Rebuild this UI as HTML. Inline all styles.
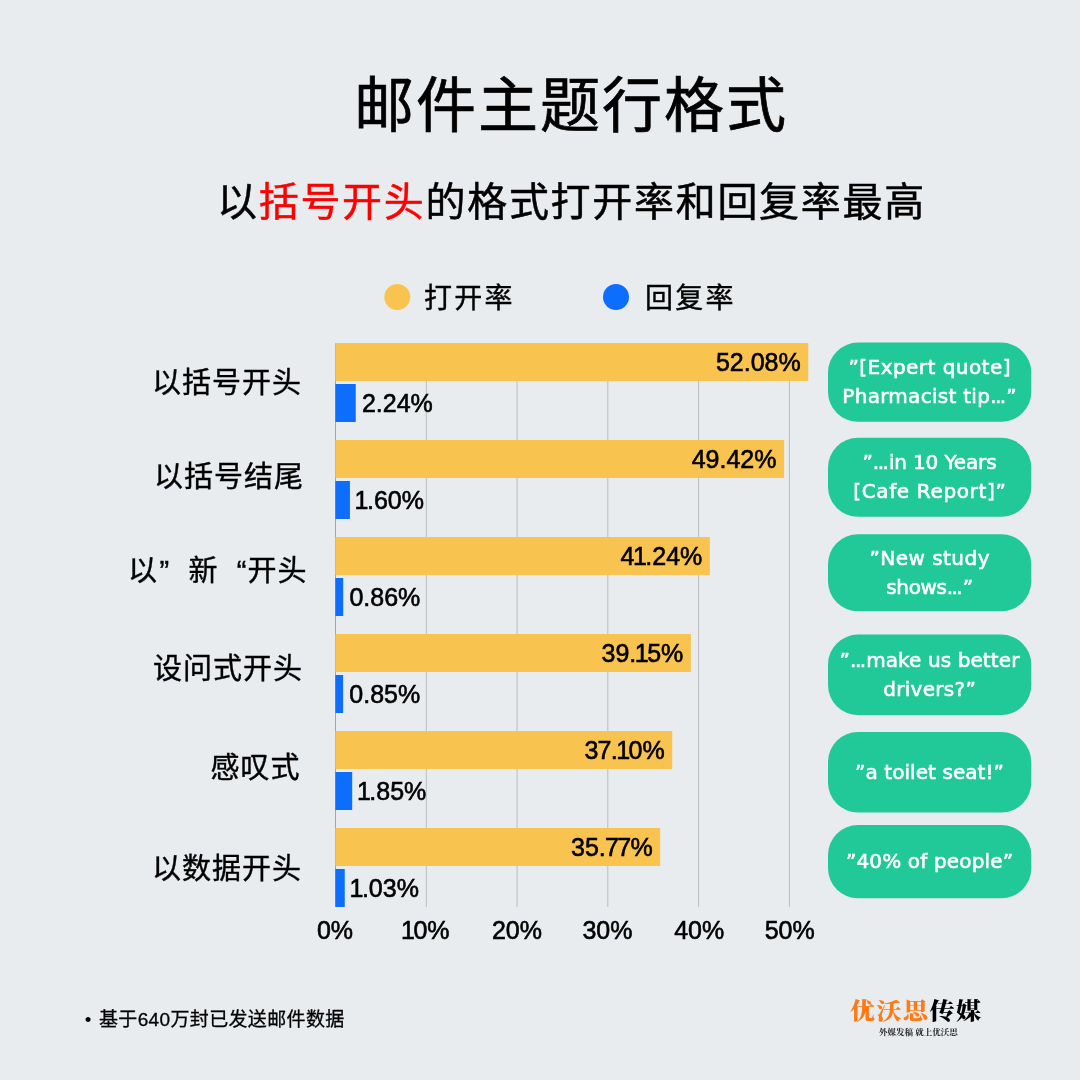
<!DOCTYPE html>
<html lang="zh-CN">
<head>
<meta charset="utf-8">
<title>邮件主题行格式</title>
<style>
*{margin:0;padding:0;box-sizing:border-box}
html,body{width:1080px;height:1080px;overflow:hidden;background:#e9ecef}
body{position:relative;font-family:"Liberation Sans","Noto Sans CJK SC",sans-serif;color:#000}
.abs{position:absolute;white-space:nowrap}
svg{position:absolute;left:0;top:0}
.title{left:354px;top:62px;font-size:60px;line-height:90px;font-weight:400;-webkit-text-stroke:0.7px #000;letter-spacing:2px}
.sub{left:217px;top:172px;font-size:40px;line-height:60px;letter-spacing:1.7px;-webkit-text-stroke-width:0.5px}
.sub b{font-weight:400;color:#f00}
.leg{font-size:28px;line-height:40px;letter-spacing:2.2px;top:279px;-webkit-text-stroke-width:0.4px}
.cat{font-size:29px;line-height:40px;letter-spacing:1px;text-align:right;-webkit-text-stroke-width:0.4px}
.cat i{font-style:normal;display:inline-block;width:29px}
.cat .q0{width:auto;margin-right:1.4px}
.cat .ql{text-align:left}
.cat .qr{text-align:right}
.val{font-size:25px;line-height:38px;-webkit-text-stroke:0.6px #000}
.tick{font-size:25px;line-height:30px;width:100px;text-align:center;-webkit-text-stroke:0.6px #000}
.pl{left:828px;width:203px;color:#fff;font-family:"DejaVu Sans","Liberation Sans",sans-serif;font-size:20px;line-height:30px;text-align:center;-webkit-text-stroke:0.6px #fff}
.n1{margin:0 -1.5px}
.n7{margin:0 -0.8px}
.el{letter-spacing:-1.5px;margin-right:1.5px}
.foot{left:99px;top:1005px;font-size:19px;line-height:30px;letter-spacing:0.35px;-webkit-text-stroke-width:0.3px}
.bul{left:82px;top:1005px;font-size:19px;line-height:30px;width:12px;text-align:center}
.logo{left:850px;top:996px;font-family:"Liberation Serif","Noto Serif CJK SC",serif;font-weight:900;font-size:25px;line-height:36px;letter-spacing:1.5px;transform:scaleY(0.9);transform-origin:0 0}
.logo span{color:#ff7a14}
.tag{left:879px;top:1026px;font-family:"Liberation Serif","Noto Serif CJK SC",serif;font-size:8.5px;line-height:12px;font-weight:700;letter-spacing:0px;color:#222}
</style>
</head>
<body>
<svg width="1080" height="1080" viewBox="0 0 1080 1080">
<rect x="425.8" y="343" width="1" height="564" fill="#b9bdc1"/>
<rect x="516.6" y="343" width="1" height="564" fill="#b9bdc1"/>
<rect x="607.3" y="343" width="1" height="564" fill="#b9bdc1"/>
<rect x="698.1" y="343" width="1" height="564" fill="#b9bdc1"/>
<rect x="788.9" y="343" width="1" height="564" fill="#b9bdc1"/>
<rect x="335" y="343" width="1" height="564" fill="#a3a6a9"/>
<rect x="335.4" y="343" width="472.89" height="38" fill="#f9c34f"/>
<rect x="335.4" y="384" width="20.34" height="38" fill="#0d6efd"/>
<rect x="828" y="342.6" width="203.3" height="79.2" rx="30" ry="30" fill="#20c997"/>
<rect x="335.4" y="440" width="448.73" height="38" fill="#f9c34f"/>
<rect x="335.4" y="481" width="14.53" height="38" fill="#0d6efd"/>
<rect x="828" y="437.8" width="203.3" height="79.0" rx="30" ry="30" fill="#20c997"/>
<rect x="335.4" y="537" width="374.46" height="38" fill="#f9c34f"/>
<rect x="335.4" y="578" width="7.81" height="38" fill="#0d6efd"/>
<rect x="828" y="534.2" width="203.3" height="77.0" rx="30" ry="30" fill="#20c997"/>
<rect x="335.4" y="634" width="355.48" height="38" fill="#f9c34f"/>
<rect x="335.4" y="675" width="7.72" height="38" fill="#0d6efd"/>
<rect x="828" y="634.6" width="203.3" height="80.4" rx="30" ry="30" fill="#20c997"/>
<rect x="335.4" y="731" width="336.87" height="38" fill="#f9c34f"/>
<rect x="335.4" y="772" width="16.80" height="38" fill="#0d6efd"/>
<rect x="828" y="732.0" width="203.3" height="80.6" rx="30" ry="30" fill="#20c997"/>
<rect x="335.4" y="828" width="324.79" height="38" fill="#f9c34f"/>
<rect x="335.4" y="869" width="9.35" height="38" fill="#0d6efd"/>
<rect x="828" y="825.0" width="203.3" height="73.3" rx="30" ry="30" fill="#20c997"/>
<circle cx="397.3" cy="297" r="13" fill="#f9c34f"/>
<circle cx="616" cy="297" r="13" fill="#0d6efd"/>
</svg>
<div class="abs title">邮件主题行格式</div>
<div class="abs sub">以<b>括号开头</b>的格式打开率和回复率最高</div>
<div class="abs leg" style="left:424px">打开率</div>
<div class="abs leg" style="left:645px">回复率</div>
<div class="abs cat" style="top:363px;right:778.0px">以括号开头</div>
<div class="abs val" style="top:343px;right:279.3px">52.08%</div>
<div class="abs val" style="top:384px;left:361.9px">2.24%</div>
<div class="abs pl" style="top:352.2px;letter-spacing:0.45px;padding-left:0.45px">”[Expert quote]</div>
<div class="abs pl" style="top:381.0px;letter-spacing:0.28px;padding-left:0.28px">Pharmacist tip<span class="el">...</span>”</div>
<div class="abs cat" style="top:457px;right:776.0px">以括号结尾</div>
<div class="abs val" style="top:440px;right:303.5px">49.42%</div>
<div class="abs val" style="top:481px;left:356.1px"><span class="n1">1</span>.60%</div>
<div class="abs pl" style="top:447.3px;letter-spacing:-0.15px;padding-left:0px">”<span class="el">...</span>in 10 Years</div>
<div class="abs pl" style="top:476.0px;letter-spacing:0.64px;padding-left:0.64px">[Cafe Report]”</div>
<div class="abs cat" style="top:551px;right:772.5px"><i class="q0">以</i><i class="ql">”</i>新<i class="qr">“</i>开头</div>
<div class="abs val" style="top:537px;right:377.7px">4<span class="n1">1</span>.24%</div>
<div class="abs val" style="top:578px;left:349.4px">0.86%</div>
<div class="abs pl" style="top:542.8px;letter-spacing:0.47px;padding-left:0.47px">”New study</div>
<div class="abs pl" style="top:571.5px;letter-spacing:-0.34px;padding-left:0px">shows<span class="el">...</span>”</div>
<div class="abs cat" style="top:649px;right:777.0px">设问式开头</div>
<div class="abs val" style="top:634px;right:396.7px">39.<span class="n1">1</span>5%</div>
<div class="abs val" style="top:675px;left:349.3px">0.85%</div>
<div class="abs pl" style="top:644.8px;letter-spacing:0.1px;padding-left:0.1px">”<span class="el">...</span>make us better</div>
<div class="abs pl" style="top:673.5px;letter-spacing:0.3px;padding-left:0.3px">drivers?”</div>
<div class="abs cat" style="top:748px;right:779.5px">感叹式</div>
<div class="abs val" style="top:731px;right:415.3px">3<span class="n7">7</span>.<span class="n1">1</span>0%</div>
<div class="abs val" style="top:772px;left:358.4px"><span class="n1">1</span>.85%</div>
<div class="abs pl" style="top:756.7px;letter-spacing:0.07px;padding-left:0.07px">”a toilet seat!”</div>
<div class="abs cat" style="top:849px;right:778.0px">以数据开头</div>
<div class="abs val" style="top:828px;right:427.4px">35.<span class="n7">7</span><span class="n7">7</span>%</div>
<div class="abs val" style="top:869px;left:351.0px"><span class="n1">1</span>.03%</div>
<div class="abs pl" style="top:846.0px;letter-spacing:0.15px;padding-left:0.15px">”40% of people”</div>
<div class="abs tick" style="left:285.0px;top:915px">0%</div>
<div class="abs tick" style="left:376.0px;top:915px"><span class="n1">1</span>0%</div>
<div class="abs tick" style="left:467.0px;top:915px">20%</div>
<div class="abs tick" style="left:557.5px;top:915px">30%</div>
<div class="abs tick" style="left:649.2px;top:915px">40%</div>
<div class="abs tick" style="left:739.7px;top:915px">50%</div>
<div class="abs bul">•</div>
<div class="abs foot">基于640万封已发送邮件数据</div>
<div class="abs logo"><span>优沃思</span>传媒</div>
<div class="abs tag">外媒发稿 就上优沃思</div>
</body>
</html>
